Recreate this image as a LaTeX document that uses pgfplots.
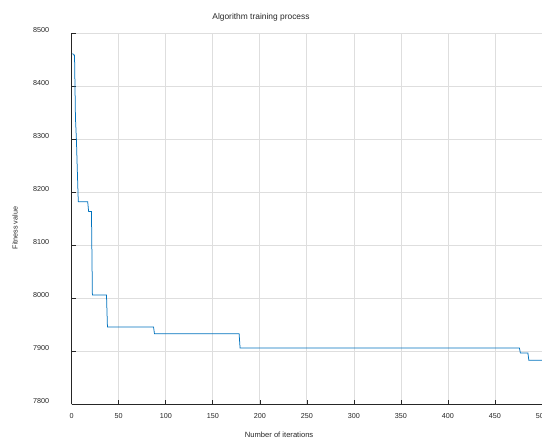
\documentclass[border=0pt]{standalone}
\usepackage{pgfplots}
\pgfplotsset{compat=1.18}
\usepackage{fontspec}
\setmainfont{Liberation Sans}
\definecolor{mblue}{rgb}{0,0.447,0.741}
\definecolor{mtxt}{HTML}{262626}
\begin{document}
\begin{tikzpicture}
\useasboundingbox (-71.7pt,-39.7pt) rectangle (470.3pt,404.3pt);
\begin{axis}[
  at={(0pt,0pt)}, anchor=south west,
  scale only axis, width=470.3pt, height=371pt,
  xmin=0, xmax=500, ymin=7800, ymax=8500,
  xtick={0,50,...,500}, ytick={7800,7900,...,8500},
  axis x line=bottom, axis y line=left,
  axis line style={-, color=mtxt, line width=0.6pt},
  tick align=inside, major tick length=4.3pt,
  tick style={color=mtxt, line width=0.6pt},
  grid=major, grid style={color=black!13, line width=0.7pt},
  font=\fontsize{7.2}{8.6}\selectfont,
  /pgf/number format/assume math mode=true,
  /pgf/number format/1000 sep={},
  ticklabel style={color=mtxt},
  yticklabel style={anchor=east, xshift=-19pt, yshift=3pt},
  xticklabel style={anchor=center, yshift=-11.4pt},
  every axis title shift=0pt,
  title={Algorithm training process},
  title style={at={(axis description cs:0.4025,1)}, anchor=center, yshift=16.3pt, color=mtxt, font=\fontsize{8.4}{10}\selectfont},
  xlabel={Number of iterations},
  xlabel style={at={(axis description cs:0.441,0)}, anchor=center, yshift=-30.7pt, color=mtxt, font=\fontsize{7.6}{9}\selectfont},
  ylabel={Fitness value},
  ylabel style={at={(axis description cs:-0.1206,0.475)}, anchor=center, color=mtxt, font=\fontsize{7.2}{8.6}\selectfont},
  clip=false,
]
\addplot[color=mblue, line width=0.75pt, mark=none] coordinates {
(1,8462) (2,8459) (3,8459) (4,8340) (5,8300) (6,8240) (7,8182)
(17,8182) (18,8164) (21,8164) (22,8006)
(37,8006) (38,7946)
(87,7946) (88,7933)
(178,7933) (179,7906)
(476,7906) (477,7897)
(485,7897) (486,7883)
(500,7883)
};
\end{axis}
\end{tikzpicture}
\end{document}
